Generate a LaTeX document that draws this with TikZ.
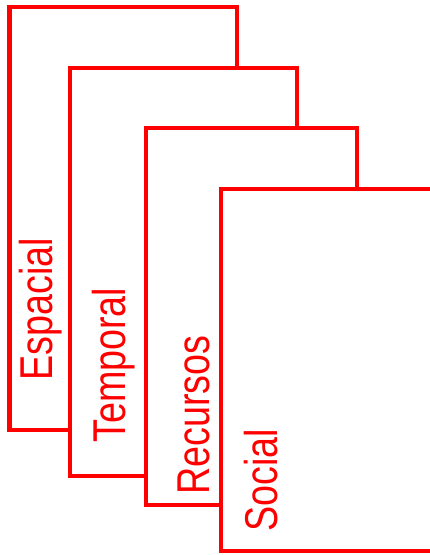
\documentclass[tikz,border=0pt]{standalone}
\usepackage{fontspec}
\setmainfont{Liberation Sans}
\begin{document}
\begin{tikzpicture}[x=1pt,y=1pt]

    \tikzset{card/.style={draw=red,fill=white,line width=4.5pt}}
    \tikzset{cardlabel/.style={text=red,rotate=90,anchor=base west,inner sep=0pt,
        font=\fontsize{46}{46}\selectfont}}
    \newcommand{\narrow}[1]{\scalebox{0.82}[1]{#1}}

    \useasboundingbox (0,0) rectangle (429,555);

    % Tarjetas, de atras hacia delante.
    \draw[card] ( 9.5,548) rectangle (237,125);
    \draw[card] ( 70,487) rectangle (297, 79);
    \draw[card] (146,427) rectangle (357, 50);
    \draw[card] (221,366) rectangle (440,  4);

    \node[cardlabel] (esp) at ( 52,174) {\narrow{Espacial}};
    \node[cardlabel] (tem) at (125,112) {\narrow{Temporal}};
    \node[cardlabel] (rec) at (209, 60) {\narrow{Recursos}};
    \node[cardlabel] (soc) at (277, 23) {\narrow{Social}};

\end{tikzpicture}
\end{document}
